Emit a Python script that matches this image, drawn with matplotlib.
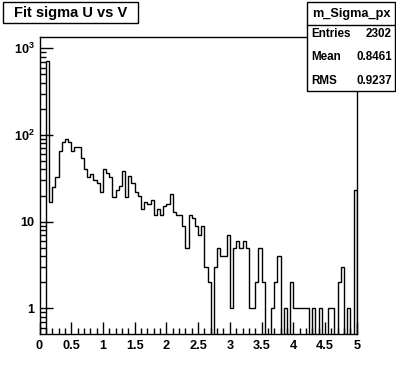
import numpy as np
import matplotlib
matplotlib.use("Agg")
import matplotlib.pyplot as plt
from matplotlib.patches import Rectangle
from matplotlib.ticker import FixedLocator, NullFormatter

plt.rcParams['font.family'] = ['Liberation Sans', 'DejaVu Sans']
plt.rcParams['font.weight'] = 'bold'
plt.rcParams['mathtext.fontset'] = 'custom'
plt.rcParams['mathtext.rm'] = 'Liberation Sans:bold'
plt.rcParams['mathtext.bf'] = 'Liberation Sans:bold'
plt.rcParams['mathtext.it'] = 'Liberation Sans:bold'

# ---- data ----
x_min, x_max, n_bins = 0.0, 5.0, 100
counts = [
    0, 0, 710, 17, 25, 33, 65, 82, 89, 82,
    66, 72, 72, 54, 41, 33, 35, 30, 28, 22,
    40, 36, 33, 19, 23, 26, 38, 19, 34, 28,
    22, 20, 14, 17, 16, 18, 12, 14, 12, 15,
    16, 21, 13, 12, 12, 9, 5, 12, 11, 9,
    7, 9, 3, 2, 0, 3, 5, 4, 4, 7,
    1, 5, 6, 5, 6, 5, 1, 1, 2, 5,
    2, 0, 0, 1, 2, 4, 0, 1, 0, 2,
    1, 1, 1, 1, 1, 0, 1, 0, 1, 0,
    0, 1, 1, 0, 2, 3, 0, 1, 0, 23,
]
title_text = "Fit sigma U vs V"
stats_name = "m_Sigma_px"
stats_labels = ["Entries", "Mean", "RMS"]
stats_values = ["2302", "0.8461", "0.9237"]
x_ticks = [0, 0.5, 1, 1.5, 2, 2.5, 3, 3.5, 4, 4.5, 5]
x_tick_labels = ["0", "0.5", "1", "1.5", "2", "2.5", "3", "3.5", "4", "4.5", "5"]
y_ticks = [1, 10, 100, 1000]
y_tick_labels = ["1", "10", r"$10^{2}$", r"$10^{3}$"]
y_lim = (0.506, 1360)

W, H = 396, 372
fig = plt.figure(figsize=(W / 100, H / 100), dpi=100)
fig.patch.set_facecolor('white')

def fx(px):
    return px / W

def fy(py):
    return 1 - py / H

left, right, top, bottom = 39.5, 356.7, 36.7, 334.0
ax = fig.add_axes([fx(left), fy(bottom), fx(right) - fx(left), fy(top) - fy(bottom)])

edges = np.linspace(x_min, x_max, n_bins + 1)
vals = np.array(counts, dtype=float)
floor = 1e-3
plot_vals = np.where(vals > 0, vals, floor)
ax.stairs(plot_vals, edges, baseline=floor, color='black', lw=1.0, fill=False)

ax.set_yscale('log')
ax.set_xlim(x_min, x_max)
ax.set_ylim(*y_lim)

for s in ax.spines.values():
    s.set_linewidth(1.0)
    s.set_color('black')

ax.xaxis.set_major_locator(FixedLocator(x_ticks))
ax.set_xticklabels(x_tick_labels)
ax.xaxis.set_minor_locator(FixedLocator(np.arange(0, 5.0001, 0.1)))
ax.yaxis.set_major_locator(FixedLocator(y_ticks))
ax.set_yticklabels(y_tick_labels)
minors = [m * 10 ** d for d in range(-1, 4) for m in range(2, 10)]
ax.yaxis.set_minor_locator(FixedLocator(minors))
ax.yaxis.set_minor_formatter(NullFormatter())

ax.tick_params(axis='both', which='major', direction='in', length=9, width=1,
               labelsize=9.2, top=False, right=False)
ax.tick_params(axis='both', which='minor', direction='in', length=4.5, width=1,
               top=False, right=False)
ax.tick_params(axis='x', which='major', pad=4)
ax.tick_params(axis='y', which='major', pad=3.5)
for lab in ax.get_xticklabels() + ax.get_yticklabels():
    lab.set_fontweight('bold')

# ---- title box ----
tb = Rectangle((fx(3.3), fy(23.3)), fx(138) - fx(3.3), fy(1.7) - fy(23.3),
               transform=fig.transFigure, facecolor='white', edgecolor='black',
               lw=1.0, zorder=5)
fig.patches.append(tb)
fig.text(fx(70.7), fy(12.8), title_text, ha='center', va='center',
         fontsize=10.5, fontweight='bold', zorder=6)

# ---- stats box ----
sb = Rectangle((fx(306.7), fy(90.7)), fx(395) - fx(306.7), fy(1.7) - fy(90.7),
               transform=fig.transFigure, facecolor='white', edgecolor='black',
               lw=1.0, zorder=5)
fig.patches.append(sb)
fig.lines.append(plt.Line2D([fx(306.7), fx(395)], [fy(25), fy(25)],
                            transform=fig.transFigure, color='black', lw=1.0, zorder=6))
fig.text(fx(351.5), fy(13.5), stats_name, ha='center', va='center',
         fontsize=9.2, fontweight='bold', zorder=7)
for i, (lab, val) in enumerate(zip(stats_labels, stats_values)):
    yy = fy(34 + i * 23.3)
    fig.text(fx(311.5), yy, lab, ha='left', va='center', fontsize=8.4,
             fontweight='bold', zorder=7)
    fig.text(fx(392), yy, val, ha='right', va='center', fontsize=8.4,
             fontweight='bold', zorder=7)

fig.savefig('out.png', dpi=100, facecolor='white')
